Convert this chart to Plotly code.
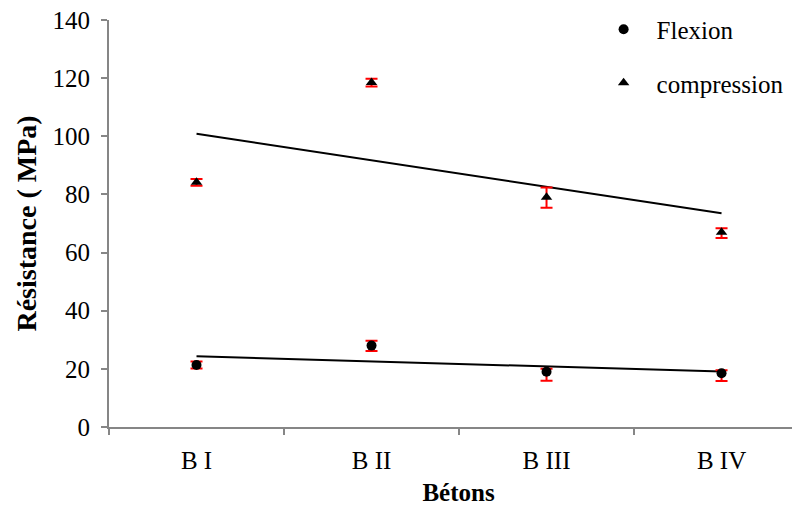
import numpy as np
import plotly.graph_objects as go

categories = ["B I", "B II", "B III", "B IV"]
flexion = [21.3, 28.0, 19.0, 18.5]
flexion_err_plus = [1.2, 1.7, 1.0, 1.0]
flexion_err_minus = [1.2, 1.9, 3.1, 2.7]
compression = [84.2, 118.5, 79.0, 67.0]
compression_err_plus = [1.1, 1.3, 3.4, 1.4]
compression_err_minus = [1.2, 1.4, 3.6, 2.0]
y_ticks = [0, 20, 40, 60, 80, 100, 120, 140]

FONT = "Liberation Serif"
xi = np.arange(1, len(categories) + 1)

def trend(vals):
    a, b = np.polyfit(xi, vals, 1)
    return list(a * xi + b)

fig = go.Figure()
fig.add_trace(go.Scatter(
    x=categories, y=trend(flexion), mode="lines",
    line=dict(color="black", width=2), showlegend=False, hoverinfo="skip"))
fig.add_trace(go.Scatter(
    x=categories, y=trend(compression), mode="lines",
    line=dict(color="black", width=2), showlegend=False, hoverinfo="skip"))

fig.add_trace(go.Scatter(
    x=categories, y=flexion, mode="markers", name="Flexion", legendgroup="f",
    marker=dict(symbol="circle", size=10, color="black"),
    error_y=dict(type="data", symmetric=False, array=flexion_err_plus,
                 arrayminus=flexion_err_minus, color="#FF0000", thickness=2, width=6)))
fig.add_trace(go.Scatter(
    x=categories, y=compression, mode="markers", name="compression", legendgroup="c",
    marker=dict(symbol="triangle-up", size=10, color="black"),
    error_y=dict(type="data", symmetric=False, array=compression_err_plus,
                 arrayminus=compression_err_minus, color="#FF0000", thickness=2, width=6)))

fig.update_layout(
    width=800, height=509,
    margin=dict(l=101, r=0, t=12, b=90, autoexpand=False),
    plot_bgcolor="white", paper_bgcolor="white",
    font=dict(family=FONT, size=25, color="black"),
    legend=dict(x=0.689, y=1.033, xanchor="left", yanchor="top",
                font=dict(family=FONT, size=25, color="black"),
                bgcolor="rgba(0,0,0,0)", itemwidth=56, tracegroupgap=18),
    xaxis=dict(
        type="category", categoryorder="array", categoryarray=categories,
        range=[-0.5, 3.494], showline=True, linecolor="#868686", linewidth=2,
        ticks="outside", tickson="boundaries", ticklen=6, tickcolor="#868686", tickwidth=2,
        showgrid=False, zeroline=False, automargin=False, ticklabeloverflow="allow",
        ticklabelstandoff=10,
        tickfont=dict(family=FONT, size=25, color="black"),
        title=dict(text="<b>Bétons</b>", font=dict(family=FONT, size=25, color="black"), standoff=10)),
    yaxis=dict(
        range=[0, 140], tickvals=y_ticks, showline=True, linecolor="#868686", linewidth=2,
        ticks="outside", ticklen=6, tickcolor="#868686", tickwidth=2,
        showgrid=False, zeroline=False, automargin=False, ticklabeloverflow="allow",
        ticklabelstandoff=6,
        tickfont=dict(family=FONT, size=25, color="black"),
        title=dict(text="<b>Résistance ( MPa)</b>", font=dict(family=FONT, size=28, color="black"), standoff=8)),
)

fig.write_html("out.html")
